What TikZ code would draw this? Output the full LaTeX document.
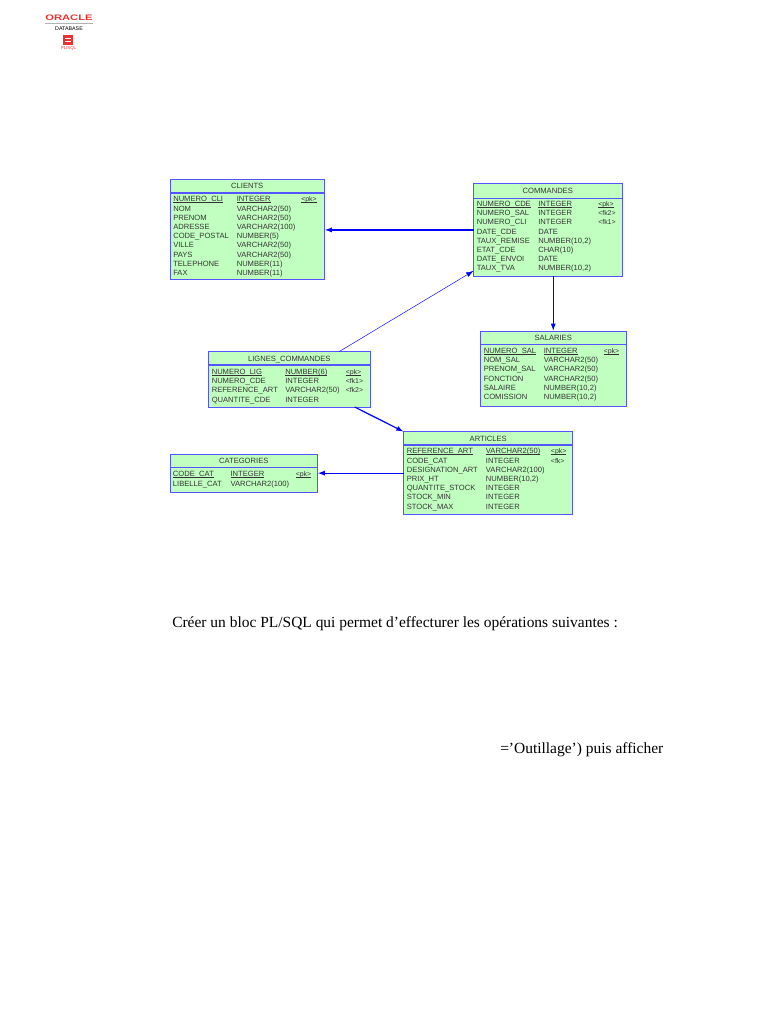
\documentclass[tikz,border=0pt]{standalone}
\usepackage{fontspec}
\setmainfont{Liberation Sans}
\newfontfamily\docfont{Liberation Serif}
\usetikzlibrary{arrows.meta, fit}

\definecolor{tablefill}{RGB}{192,255,192}
\definecolor{tableblue}{RGB}{85,85,255}
\definecolor{fkblue}{RGB}{0,0,255}
\definecolor{oraclered}{RGB}{232,50,50}

\tikzset{
    tablebox/.style = {draw = tableblue, fill = tablefill, line width = 0.7pt, inner sep = 0pt, outer sep = 0pt},
    headline/.style = {draw = tableblue, line width = 0.8pt},
    cell/.style = {anchor = west, inner sep = 0pt, yshift = -0.4pt, text = black!80, font = \fontsize{5.7}{6}\selectfont, text height = 4.2pt, text depth = 0.8pt},
    keycell/.style = {cell, font = \fontsize{5.2}{6}\selectfont},
    titlecell/.style = {cell, anchor = center},
    fk/.style = {draw = fkblue, line width = 0.9pt, -{Latex[length = 5.5pt, width = 3.8pt]}},
    fkthin/.style = {draw = fkblue, line width = 0.35pt, -{Latex[length = 5.5pt, width = 3.8pt]}},
    doctext/.style = {anchor = base west, inner sep = 0pt, font = \docfont\fontsize{11.6}{13}\selectfont},
}

\newcommand{\pk}[1]{\setbox0\hbox{#1}\rlap{\rule[-0.55pt]{\wd0}{0.3pt}}\box0}

% name, x0, y0, x1, y1, header line y, title
\newcommand{\tablebox}[7]{
    \node[tablebox, fit = {(#2, #3) (#4, #5)}] (#1) {};
    \draw[headline] (#2, #6) -- (#4, #6);
    \node[titlecell] (#1-title) at ({(#2 + #4) / 2}, {(#3 + #6) / 2}) {#7};
}

% name, x of the three columns, y of first row, rows
\newcommand{\tablerows}[6]{
    \foreach \colname/\coltype/\colkey [count = \i from 0] in {#6} {
        \node[cell] (#1-name-\i) at (#2, {#5 + 9.2 * \i}) {\colname};
        \node[cell] (#1-type-\i) at (#3, {#5 + 9.2 * \i}) {\coltype};
        \node[keycell] (#1-key-\i) at (#4, {#5 + 9.2 * \i}) {\colkey};
    }
}

\begin{document}
\begin{tikzpicture}[x = 0.75pt, y = -0.75pt]
    \useasboundingbox (0, 0) rectangle (768, 1024);

    % logo
    \node[inner sep = 0pt, text = oraclered, font = \fontsize{6}{7}\selectfont\bfseries] (logotext) at (69, 18) {\scalebox{1.4}[1]{ORACLE}};
    \draw[gray!60, line width = 0.4pt] (45, 23.5) -- (93, 23.5);
    \node[inner sep = 0pt, font = \fontsize{4}{5}\selectfont] (logodb) at (69, 29) {DATABASE};
    \node[fill = oraclered, inner sep = 0pt, minimum width = 7.5pt, minimum height = 7.5pt] (logoicon) at (68, 40) {};
    \draw[white, line width = 0.5pt] (65, 38.5) -- (71, 38.5);
    \draw[white, line width = 0.5pt] (65, 41.5) -- (71, 41.5);
    \node[inner sep = 0pt, text = oraclered, font = \fontsize{3.2}{4}\selectfont] (logosql) at (68.5, 48) {PL/SQL};

    % tables
    \tablebox{clients}{170}{179}{324.5}{279.5}{193}{CLIENTS}
    \tablerows{clients}{173}{236.5}{301}{199}{
        \pk{NUMERO\_CLI}/\pk{INTEGER}/\pk{<pk>},
        NOM/VARCHAR2(50)/,
        PRENOM/VARCHAR2(50)/,
        ADRESSE/VARCHAR2(100)/,
        CODE\_POSTAL/NUMBER(5)/,
        VILLE/VARCHAR2(50)/,
        PAYS/VARCHAR2(50)/,
        TELEPHONE/NUMBER(11)/,
        FAX/NUMBER(11)/
    }

    \tablebox{commandes}{473.5}{183.5}{622}{276}{198.3}{COMMANDES}
    \tablerows{commandes}{476.5}{538}{598}{203.7}{
        \pk{NUMERO\_CDE}/\pk{INTEGER}/\pk{<pk>},
        NUMERO\_SAL/INTEGER/<fk2>,
        NUMERO\_CLI/INTEGER/<fk1>,
        DATE\_CDE/DATE/,
        TAUX\_REMISE/{NUMBER(10,2)}/,
        ETAT\_CDE/CHAR(10)/,
        DATE\_ENVOI/DATE/,
        TAUX\_TVA/{NUMBER(10,2)}/
    }

    \tablebox{salaries}{480.5}{331}{626}{406}{344.7}{SALARIES}
    \tablerows{salaries}{483.5}{543.5}{603.5}{350.7}{
        \pk{NUMERO\_SAL}/\pk{INTEGER}/\pk{<pk>},
        NOM\_SAL/VARCHAR2(50)/,
        PRENOM\_SAL/VARCHAR2(50)/,
        FONCTION/VARCHAR2(50)/,
        SALAIRE/{NUMBER(10,2)}/,
        COMISSION/{NUMBER(10,2)}/
    }

    \tablebox{lignes}{208.5}{351.5}{370}{407}{365}{LIGNES\_COMMANDES}
    \tablerows{lignes}{211.5}{285}{345.5}{371.7}{
        \pk{NUMERO\_LIG}/\pk{NUMBER(6)}/\pk{<pk>},
        NUMERO\_CDE/INTEGER/<fk1>,
        REFERENCE\_ART/VARCHAR2(50)/<fk2>,
        QUANTITE\_CDE/INTEGER/
    }

    \tablebox{articles}{403.7}{431.7}{572.7}{514.3}{445}{ARTICLES}
    \tablerows{articles}{406.5}{485.7}{550.7}{451}{
        \pk{REFERENCE\_ART}/\pk{VARCHAR2(50)}/\pk{<pk>},
        CODE\_CAT/INTEGER/<fk>,
        DESIGNATION\_ART/VARCHAR2(100)/,
        PRIX\_HT/{NUMBER(10,2)}/,
        QUANTITE\_STOCK/INTEGER/,
        STOCK\_MIN/INTEGER/,
        STOCK\_MAX/INTEGER/
    }

    \tablebox{categories}{170}{454}{317.5}{492.3}{467.7}{CATEGORIES}
    \tablerows{categories}{172.7}{230.3}{295.5}{474}{
        \pk{CODE\_CAT}/\pk{INTEGER}/\pk{<pk>},
        LIBELLE\_CAT/VARCHAR2(100)/
    }

    % references
    \draw[fk] ([yshift = -0.5pt] commandes.west |- clients.east) -- ([yshift = -0.5pt] clients.east);
    \draw[fk] (commandes.south -| salaries.north) -- (salaries.north);
    \draw[fkthin] (lignes.29.65) -- (commandes.209.93);
    \draw[fk] (lignes.-23.64) -- (articles.north west);
    \draw[fk] (articles.west |- categories.east) -- (categories.east);

    % text
    \node[doctext] (question) at (172, 627) {Créer un bloc PL/SQL qui permet d’effecturer les opérations suivantes :};
    \node[doctext] (outillage) at (500, 753) {=’Outillage’) puis afficher};
\end{tikzpicture}
\end{document}
